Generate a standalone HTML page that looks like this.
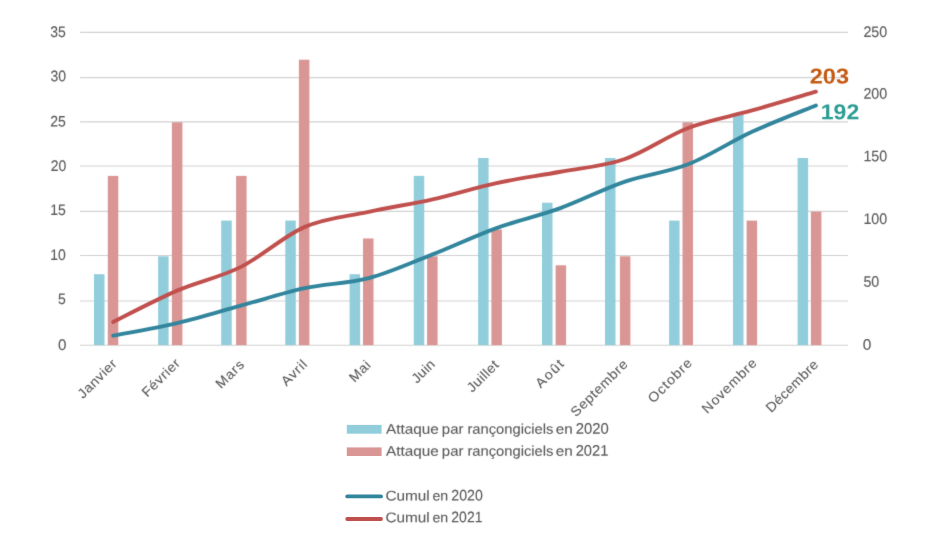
<!DOCTYPE html>
<html lang="fr"><head><meta charset="utf-8"><title>Attaques par rançongiciels</title>
<style>html,body{margin:0;padding:0;background:#fff;}body{width:942px;height:546px;overflow:hidden;font-family:"Liberation Sans",sans-serif;}svg{display:block;}text{font-family:"Liberation Sans",sans-serif;}.t text{stroke:#595959;stroke-width:0.1px;}</style>
</head><body>
<svg width="942" height="546" viewBox="0 0 942 546">
<defs><filter id="soft" x="-5%" y="-5%" width="110%" height="110%" color-interpolation-filters="sRGB"><feConvolveMatrix order="3" kernelMatrix="0.0113 0.0838 0.0113 0.0838 0.6193 0.0838 0.0113 0.0838 0.0113" divisor="1" edgeMode="none" preserveAlpha="false"/></filter><filter id="soft2" x="-2%" y="-2%" width="104%" height="104%" color-interpolation-filters="sRGB"><feConvolveMatrix order="3" kernelMatrix="0.0113 0.0838 0.0113 0.0838 0.6193 0.0838 0.0113 0.0838 0.0113" divisor="1" edgeMode="none" preserveAlpha="false"/></filter></defs>
<rect width="942" height="546" fill="#ffffff"/>
<g filter="url(#soft2)">
<g stroke="#D1D1D1" stroke-width="1.15">
<line x1="80.0" y1="345.20" x2="848.0" y2="345.20"/>
<line x1="80.0" y1="300.95" x2="848.0" y2="300.95"/>
<line x1="80.0" y1="255.45" x2="848.0" y2="255.45"/>
<line x1="80.0" y1="211.40" x2="848.0" y2="211.40"/>
<line x1="80.0" y1="165.95" x2="848.0" y2="165.95"/>
<line x1="80.0" y1="121.85" x2="848.0" y2="121.85"/>
<line x1="80.0" y1="77.60" x2="848.0" y2="77.60"/>
<line x1="80.0" y1="32.30" x2="848.0" y2="32.30"/>
</g>
<g fill="#92CDDC">
<rect x="94.00" y="274.20" width="10.50" height="70.90"/>
<rect x="158.10" y="256.33" width="10.50" height="88.77"/>
<rect x="221.20" y="220.58" width="10.50" height="124.52"/>
<rect x="285.30" y="220.58" width="10.50" height="124.52"/>
<rect x="349.60" y="274.20" width="10.50" height="70.90"/>
<rect x="413.75" y="175.89" width="10.50" height="169.21"/>
<rect x="478.10" y="158.02" width="10.50" height="187.08"/>
<rect x="542.00" y="202.71" width="10.50" height="142.39"/>
<rect x="605.00" y="158.02" width="10.50" height="187.08"/>
<rect x="669.10" y="220.58" width="10.50" height="124.52"/>
<rect x="733.00" y="113.33" width="10.50" height="231.77"/>
<rect x="797.60" y="158.02" width="10.50" height="187.08"/>
</g>
<g fill="#D99694">
<rect x="107.80" y="175.89" width="10.50" height="169.21"/>
<rect x="171.90" y="122.27" width="10.50" height="222.83"/>
<rect x="236.10" y="175.89" width="10.50" height="169.21"/>
<rect x="298.90" y="59.71" width="10.50" height="285.39"/>
<rect x="363.00" y="238.45" width="10.50" height="106.65"/>
<rect x="427.10" y="256.33" width="10.50" height="88.77"/>
<rect x="491.40" y="229.52" width="10.50" height="115.58"/>
<rect x="555.60" y="265.27" width="10.50" height="79.83"/>
<rect x="619.90" y="256.33" width="10.50" height="88.77"/>
<rect x="682.50" y="122.27" width="10.50" height="222.83"/>
<rect x="746.60" y="220.58" width="10.50" height="124.52"/>
<rect x="810.90" y="211.64" width="10.50" height="133.46"/>
</g>
<path d="M113.20,335.69 C123.85,333.61 155.79,328.18 177.08,323.18 C198.38,318.17 219.67,311.50 240.96,305.66 C262.26,299.82 283.55,292.73 304.85,288.14 C326.14,283.56 347.43,283.77 368.73,278.14 C390.02,272.50 411.32,262.70 432.61,254.36 C453.90,246.02 475.20,235.80 496.49,228.09 C517.78,220.37 539.08,215.78 560.37,208.07 C581.67,200.35 602.96,189.09 624.25,181.79 C645.55,174.49 666.84,172.62 688.14,164.28 C709.43,155.93 730.72,141.55 752.02,131.74 C773.31,121.94 805.25,109.85 815.90,105.47" fill="none" stroke="#31859C" stroke-width="3.9" stroke-linecap="round" stroke-linejoin="round"/>
<path d="M113.20,321.93 C123.85,316.71 155.79,299.82 177.08,290.65 C198.38,281.47 219.67,277.51 240.96,266.87 C262.26,256.24 283.55,236.01 304.85,226.84 C326.14,217.66 347.43,216.41 368.73,211.82 C390.02,207.23 411.32,204.11 432.61,199.31 C453.90,194.51 475.20,187.63 496.49,183.04 C517.78,178.46 539.08,175.75 560.37,171.78 C581.67,167.82 602.96,166.57 624.25,159.27 C645.55,151.97 666.84,136.12 688.14,127.99 C709.43,119.86 730.72,116.52 752.02,110.47 C773.31,104.43 805.25,94.83 815.90,91.71" fill="none" stroke="#C0504D" stroke-width="3.9" stroke-linecap="round" stroke-linejoin="round"/>
</g>
<g fill="#595959" font-size="14.0" text-anchor="end" filter="url(#soft)" class="t">
<text transform="translate(66.40,349.97) rotate(0.03) scale(1.08,1.090)">0</text>
<text transform="translate(65.80,303.90) rotate(0.03) scale(1.00,1.090)">5</text>
<text transform="translate(65.90,259.94) rotate(0.03) scale(1.00,1.090)">10</text>
<text transform="translate(65.70,215.10) rotate(0.03) scale(1.00,1.090)">15</text>
<text transform="translate(66.20,170.90) rotate(0.03) scale(1.00,1.090)">20</text>
<text transform="translate(65.80,126.40) rotate(0.03) scale(1.00,1.090)">25</text>
<text transform="translate(66.10,81.30) rotate(0.03) scale(1.00,1.090)">30</text>
<text transform="translate(65.70,37.00) rotate(0.03) scale(1.00,1.090)">35</text>
</g>
<g fill="#595959" font-size="14.0" text-anchor="start" filter="url(#soft)" class="t">
<text transform="translate(862.80,349.65) rotate(0.03) scale(1.10,1.090)">0</text>
<text transform="translate(863.40,286.75) rotate(0.03) scale(1.02,1.090)">50</text>
<text transform="translate(863.40,224.05) rotate(0.03) scale(1.02,1.090)">100</text>
<text transform="translate(863.40,161.15) rotate(0.03) scale(1.02,1.090)">150</text>
<text transform="translate(863.40,98.65) rotate(0.03) scale(1.02,1.090)">200</text>
<text transform="translate(863.40,37.05) rotate(0.03) scale(1.02,1.090)">250</text>
</g>
<g fill="#595959" font-size="13.5" text-anchor="end" filter="url(#soft)" class="t">
<text transform="translate(117.54,364.72) rotate(-45) scale(1.050,1)" textLength="46.43" lengthAdjust="spacing">Janvier</text>
<text transform="translate(180.78,364.18) rotate(-45) scale(1.050,1)" textLength="45.17" lengthAdjust="spacing">Février</text>
<text transform="translate(244.92,365.44) rotate(-45) scale(1.050,1)" textLength="32.09" lengthAdjust="spacing">Mars</text>
<text transform="translate(307.97,365.26) rotate(-45) scale(1.050,1)" textLength="28.99" lengthAdjust="spacing">Avril</text>
<text transform="translate(371.57,365.98) rotate(-45) scale(1.050,1)" textLength="22.96" lengthAdjust="spacing">Mai</text>
<text transform="translate(435.89,365.08) rotate(-45) scale(1.050,1)" textLength="25.58" lengthAdjust="spacing">Juin</text>
<text transform="translate(499.49,365.80) rotate(-45) scale(1.050,1)" textLength="36.62" lengthAdjust="spacing">Juillet</text>
<text transform="translate(564.53,365.08) rotate(-45) scale(1.050,1)" textLength="31.90" lengthAdjust="spacing">Août</text>
<text transform="translate(628.49,365.08) rotate(-45) scale(1.050,1)" textLength="70.59" lengthAdjust="spacing">Septembre</text>
<text transform="translate(692.80,364.00) rotate(-45) scale(1.050,1)" textLength="53.39" lengthAdjust="spacing">Octobre</text>
<text transform="translate(757.48,364.00) rotate(-45) scale(1.050,1)" textLength="67.54" lengthAdjust="spacing">Novembre</text>
<text transform="translate(819.10,365.44) rotate(-45) scale(1.050,1)" textLength="64.41" lengthAdjust="spacing">Décembre</text>
</g>
<g filter="url(#soft)" font-size="22" font-weight="bold">
<text transform="translate(809.8,83.5) rotate(0.03) scale(1.068,0.98)" fill="#C55A11">203</text>
<text transform="translate(820.8,119.3) rotate(0.03) scale(1.046,0.98)" fill="#2A9C94">192</text>
</g>
<rect x="346.8" y="424.9" width="34.8" height="8.8" fill="#92CDDC"/>
<rect x="346.8" y="447.4" width="34.8" height="8.6" fill="#D99694"/>
<g fill="#595959" font-size="14.0" filter="url(#soft)" class="t">
<text transform="translate(386.06,433.80) rotate(0.03) scale(1.0950,1.000)">Attaque</text>
<text transform="translate(441.87,433.80) rotate(0.03) scale(1.0670,1.000)">par</text>
<text transform="translate(467.38,433.80) rotate(0.03) scale(1.0540,1.000)">rançongiciels</text>
<text transform="translate(555.72,433.80) rotate(0.03) scale(1.0930,1.000)">en</text>
<text transform="translate(575.70,433.80) rotate(0.03) scale(1.0610,1.090)">2020</text>
<text transform="translate(386.06,455.80) rotate(0.03) scale(1.0950,1.000)">Attaque</text>
<text transform="translate(441.87,455.80) rotate(0.03) scale(1.0670,1.000)">par</text>
<text transform="translate(467.38,455.80) rotate(0.03) scale(1.0540,1.000)">rançongiciels</text>
<text transform="translate(555.72,455.80) rotate(0.03) scale(1.0930,1.000)">en</text>
<text transform="translate(575.71,455.80) rotate(0.03) scale(1.0490,1.090)">2021</text>
<text transform="translate(385.38,500.50) rotate(0.03) scale(1.0970,1.000)">Cumul</text>
<text transform="translate(432.47,500.50) rotate(0.03) scale(1.0140,1.000)">en</text>
<text transform="translate(451.34,500.50) rotate(0.03) scale(1.0110,1.090)">2020</text>
<text transform="translate(385.38,522.20) rotate(0.03) scale(1.0970,1.000)">Cumul</text>
<text transform="translate(432.47,522.20) rotate(0.03) scale(1.0140,1.000)">en</text>
<text transform="translate(451.35,522.20) rotate(0.03) scale(0.9980,1.090)">2021</text>
</g>
<line x1="347.2" y1="496.4" x2="381.0" y2="496.4" stroke="#31859C" stroke-width="3.8" stroke-linecap="round"/>
<line x1="347.2" y1="519.0" x2="381.0" y2="519.0" stroke="#C0504D" stroke-width="3.8" stroke-linecap="round"/>
</svg>
</body></html>
